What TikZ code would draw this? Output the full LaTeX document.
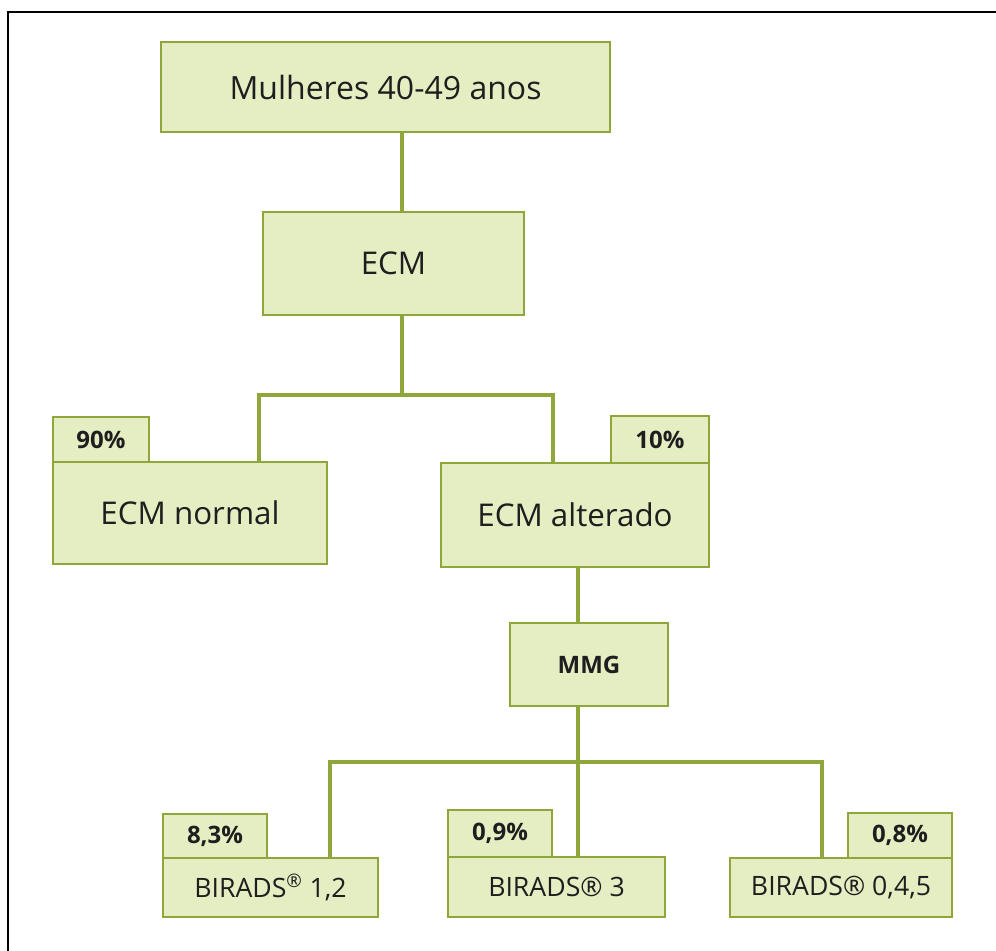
\documentclass[tikz,border=0pt]{standalone}
\usepackage{fontspec}
\setmainfont{Open Sans}
\definecolor{boxfill}{RGB}{229,237,195}
\definecolor{boxline}{RGB}{143,166,58}
\definecolor{txt}{RGB}{30,30,30}

\begin{document}
\begin{tikzpicture}[x=0.75pt,y=-0.75pt,
	box/.style n args={2}{draw=boxline,fill=boxfill,line width=1.1pt,inner sep=0pt,outer sep=0pt,
		minimum width=#1*0.75pt,minimum height=#2*0.75pt,text=txt},
	big/.style={font=\fontsize{23.5}{28}\selectfont},
	birads/.style={font=\fontsize{20}{24}\selectfont},
	pct/.style={font=\bfseries\fontsize{18}{22}\selectfont},
	link/.style={draw=boxline,line width=3.6pt}]
	\useasboundingbox (0,0) rectangle (996,950);
	\draw[line width=1.6pt] (8,960) |- (1000,12);
	\path
	(402,0) coordinate (c1)
	(259,0) coordinate (c2)
	(553,0) coordinate (c3)
	(330,0) coordinate (c5)
	(822,0) coordinate (c6)
	(402,395) coordinate (j1)
	(578,762) coordinate (j2);
	\node[box={449}{90},font=\fontsize{24}{28}\selectfont] (mulheres) at (385.5,87) {Mulheres 40-49 anos};
	\node[box={261}{103},big] (ecm) at (393.5,263.5) {ECM};
	\node[box={274}{102},big] (normal) at (190,513) {ECM normal};
	\node[box={268}{104},big] (alter) at (575,515) {ECM alterado};
	\node[box={158}{83},pct] (mmg) at (589,664.5) {MMG};
	\node[box={215}{59},birads] (b12) at (270.5,887.5) {BIRADS\textsuperscript{®} 1,2};
	\node[box={217}{60},birads] (b3) at (556.5,887) {BIRADS® 3};
	\node[box={222}{59},birads] (b045) at (841,887.5) {BIRADS® 0,4,5};
	\foreach \n/\x/\y/\w/\h/\t in {t90/101/439.5/96/45/90\%,t10/660/439.5/98/47/10\%,
		t83/215/836/104/44/{8,3\%},t09/500/833.5/104/47/{0,9\%},t08/900/835.5/104/45/{0,8\%}}
		\node[box={\w}{\h},pct] (\n) at (\x,\y) {\t};
	% connectors
	\draw[link] (c1 |- mulheres.south) -- (c1 |- ecm.north);
	\draw[link] (ecm.south -| j1) -- (j1);
	\draw[link] (normal.north -| c2) |- (j1) -| (alter.north -| c3);
	\draw[link] (alter.south -| j2) -- (mmg.north -| j2);
	\draw[link] (mmg.south -| j2) -- (j2);
	\draw[link] (b12.north -| c5) |- (j2) -| (b045.north -| c6);
	\draw[link] (j2) -- (b3.north -| j2);
\end{tikzpicture}
\end{document}
